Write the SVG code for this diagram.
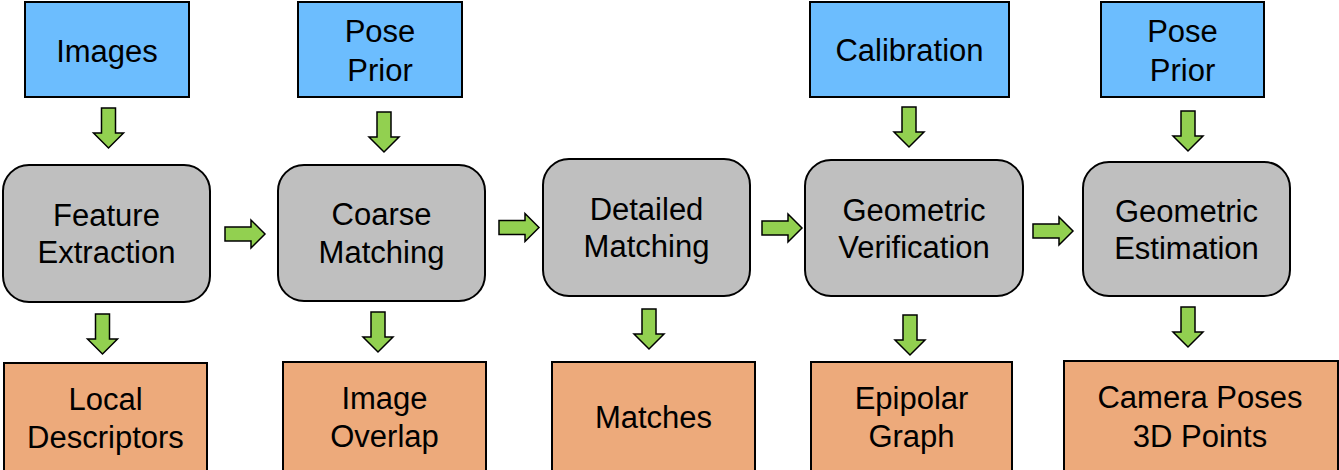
<svg xmlns="http://www.w3.org/2000/svg" width="1339" height="470" viewBox="0 0 1339 470">
<defs>
<style>
.in{fill:#6CBDFE;stroke:#000;stroke-width:2}
.proc{fill:#BFBFBF;stroke:#000;stroke-width:2}
.out{fill:#EDAA7B;stroke:#000;stroke-width:2}
.t{font-family:"Liberation Sans",Arial,sans-serif;font-size:31px;fill:#000;text-anchor:middle}
.ar{fill:#92D050;stroke:#000;stroke-width:1.5;stroke-linejoin:miter}
</style>
<path id="down" d="M-7,0 L7,0 L7,25 L15,25 L0,40 L-15,25 L-7,25 Z"/>
<path id="right" d="M0,-7 L26,-7 L26,-14 L40,0 L26,14 L26,7 L0,7 Z"/>
</defs>
<rect width="1339" height="470" fill="#fff"/>

<g id="images"><rect class="in" x="25" y="2" width="164" height="95"/><text class="t" x="107" y="62">Images</text></g>
<g id="pose-prior-1"><rect class="in" x="298" y="2" width="164" height="95"/><text class="t" x="380" y="42">Pose</text><text class="t" x="380" y="81">Prior</text></g>
<g id="calibration"><rect class="in" x="810" y="2" width="199" height="95"/><text class="t" x="909.5" y="61">Calibration</text></g>
<g id="pose-prior-2"><rect class="in" x="1101" y="2" width="163" height="95"/><text class="t" x="1182.5" y="42">Pose</text><text class="t" x="1182.5" y="81">Prior</text></g>

<g id="feature-extraction"><rect class="proc" x="3" y="165" width="207" height="137" rx="26"/><text class="t" x="106.5" y="226">Feature</text><text class="t" x="106.5" y="263">Extraction</text></g>
<g id="coarse-matching"><rect class="proc" x="278" y="165" width="207" height="136" rx="26"/><text class="t" x="381.5" y="225">Coarse</text><text class="t" x="381.5" y="263">Matching</text></g>
<g id="detailed-matching"><rect class="proc" x="543" y="159" width="207" height="137" rx="26"/><text class="t" x="646.5" y="220">Detailed</text><text class="t" x="646.5" y="257">Matching</text></g>
<g id="geometric-verification"><rect class="proc" x="805" y="160" width="218" height="136" rx="26"/><text class="t" x="914" y="221">Geometric</text><text class="t" x="914" y="258">Verification</text></g>
<g id="geometric-estimation"><rect class="proc" x="1083" y="162" width="207" height="134" rx="26"/><text class="t" x="1186.5" y="222">Geometric</text><text class="t" x="1186.5" y="259">Estimation</text></g>

<g id="local-descriptors"><rect class="out" x="4" y="363" width="203" height="120"/><text class="t" x="105.5" y="410">Local</text><text class="t" x="105.5" y="448">Descriptors</text></g>
<g id="image-overlap"><rect class="out" x="283" y="362" width="203" height="120"/><text class="t" x="384.5" y="409">Image</text><text class="t" x="384.5" y="447">Overlap</text></g>
<g id="matches"><rect class="out" x="552" y="362" width="203" height="120"/><text class="t" x="653.5" y="428">Matches</text></g>
<g id="epipolar-graph"><rect class="out" x="811" y="362" width="201" height="120"/><text class="t" x="911.5" y="409">Epipolar</text><text class="t" x="911.5" y="447">Graph</text></g>
<g id="camera-poses"><rect class="out" x="1064" y="361" width="274" height="120"/><text class="t" x="1200" y="408">Camera Poses</text><text class="t" x="1200" y="447">3D Points</text></g>

<g id="connectors">
<use href="#down" class="ar" x="108.5" y="108"/>
<use href="#down" class="ar" x="102.5" y="314"/>
<use href="#down" class="ar" x="384" y="112"/>
<use href="#down" class="ar" x="378" y="312"/>
<use href="#down" class="ar" x="649" y="309"/>
<use href="#down" class="ar" x="909" y="107"/>
<use href="#down" class="ar" x="910" y="315"/>
<use href="#down" class="ar" x="1188" y="111"/>
<use href="#down" class="ar" x="1188" y="307"/>
<use href="#right" class="ar" x="225" y="234"/>
<use href="#right" class="ar" x="499" y="227.5"/>
<use href="#right" class="ar" x="762" y="228"/>
<use href="#right" class="ar" x="1033" y="231"/>
</g>
</svg>
